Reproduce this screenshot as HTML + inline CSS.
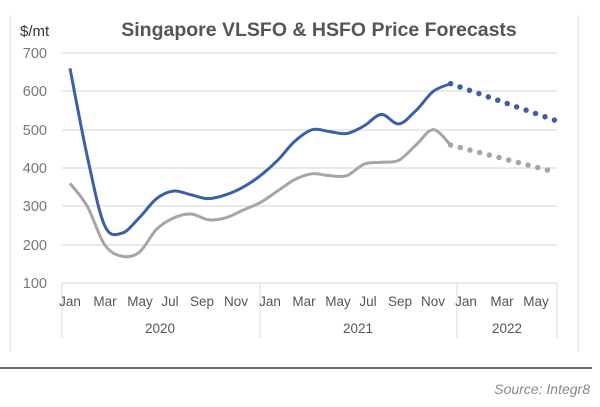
<!DOCTYPE html>
<html><head><meta charset="utf-8"><style>
body{margin:0;background:#fff;width:600px;height:402px;overflow:hidden;font-family:"Liberation Sans",sans-serif}
</style></head><body>
<svg id="s" width="600" height="402" xmlns="http://www.w3.org/2000/svg" font-family="Liberation Sans, sans-serif">
<line x1="10" y1="15" x2="10" y2="352" stroke="#e6e6e6" stroke-width="1.5"/>
<line x1="578" y1="15" x2="578" y2="352" stroke="#e6e6e6" stroke-width="1.5"/>
<text x="20" y="36" font-size="15" fill="#333">$/mt</text>
<text x="319" y="36" font-size="19.5" font-weight="bold" fill="#555" text-anchor="middle">Singapore VLSFO &amp; HSFO Price Forecasts</text>
<g stroke="#dedede" stroke-width="1.2">
<line x1="62" x2="557" y1="53" y2="53"/><line x1="62" x2="557" y1="91" y2="91"/><line x1="62" x2="557" y1="130" y2="130"/><line x1="62" x2="557" y1="168" y2="168"/><line x1="62" x2="557" y1="206" y2="206"/><line x1="62" x2="557" y1="245" y2="245"/><line x1="62" x2="557" y1="283" y2="283"/>
<line x1="62" x2="62" y1="283" y2="338"/><line x1="260" x2="260" y1="283" y2="338"/><line x1="457" x2="457" y1="283" y2="338"/><line x1="557" x2="557" y1="283" y2="338"/>
</g>
<g font-size="14.5" fill="#777" text-anchor="end">
<text x="47" y="58">700</text><text x="47" y="96">600</text><text x="47" y="135">500</text><text x="47" y="173">400</text><text x="47" y="211">300</text><text x="47" y="250">200</text><text x="47" y="288">100</text>
</g>
<g font-size="13.5" fill="#555" text-anchor="middle">
<text x="70" y="306">Jan</text><text x="105" y="306">Mar</text><text x="140" y="306">May</text><text x="170" y="306">Jul</text><text x="202" y="306">Sep</text><text x="236" y="306">Nov</text>
<text x="270" y="306">Jan</text><text x="304" y="306">Mar</text><text x="338" y="306">May</text><text x="368" y="306">Jul</text><text x="400" y="306">Sep</text><text x="433" y="306">Nov</text>
<text x="466" y="306">Jan</text><text x="502" y="306">Mar</text><text x="536" y="306">May</text>
<text x="160" y="333">2020</text><text x="358" y="333">2021</text><text x="507" y="333">2022</text>
</g>
<line x1="0" y1="368" x2="592" y2="368" stroke="#6b6b6b" stroke-width="2"/>
<text x="590" y="394" font-size="14" font-style="italic" fill="#888" text-anchor="end">Source: Integr8</text>
<path id="b" fill="none" stroke="#3f5ea8" stroke-width="3"/>
<path id="g" fill="none" stroke="#a6a6a6" stroke-width="3"/>
<path id="bd" fill="none" stroke="#3f5ea8" stroke-width="5.5" stroke-linecap="round" stroke-dasharray="0 10"/>
<path id="gd" fill="none" stroke="#a6a6a6" stroke-width="5.5" stroke-linecap="round" stroke-dasharray="0 10"/>
</svg>
<script>
function X(i){return 70+17.3*i}function Y(v){return 283-(v-100)*0.3833}
function path(vals,start){var p=vals.map(function(v,k){return [X(start+k),Y(v)]});
var d="M"+p[0][0]+","+p[0][1];
for(var i=0;i<p.length-1;i++){var p0=p[i-1]||p[i],p1=p[i],p2=p[i+1],p3=p[i+2]||p2;
var c1=[p1[0]+(p2[0]-p0[0])/6,p1[1]+(p2[1]-p0[1])/6],c2=[p2[0]-(p3[0]-p1[0])/6,p2[1]-(p3[1]-p1[1])/6];
d+=" C"+c1+" "+c2+" "+p2;}return d}
var blue=[660,430,250,230,270,320,340,330,320,330,350,380,420,470,500,495,490,510,540,515,550,600,620];
var gray=[360,300,200,170,180,240,270,280,265,270,290,310,340,370,385,380,380,410,415,420,460,500,460];
document.getElementById("b").setAttribute("d",path(blue,0));
document.getElementById("g").setAttribute("d",path(gray,0));
document.getElementById("bd").setAttribute("d","M"+X(22)+","+Y(620)+" L"+X(28)+","+Y(525));
document.getElementById("gd").setAttribute("d","M"+X(22)+","+Y(460)+" L"+X(28)+","+Y(390));
</script>
</body></html>
